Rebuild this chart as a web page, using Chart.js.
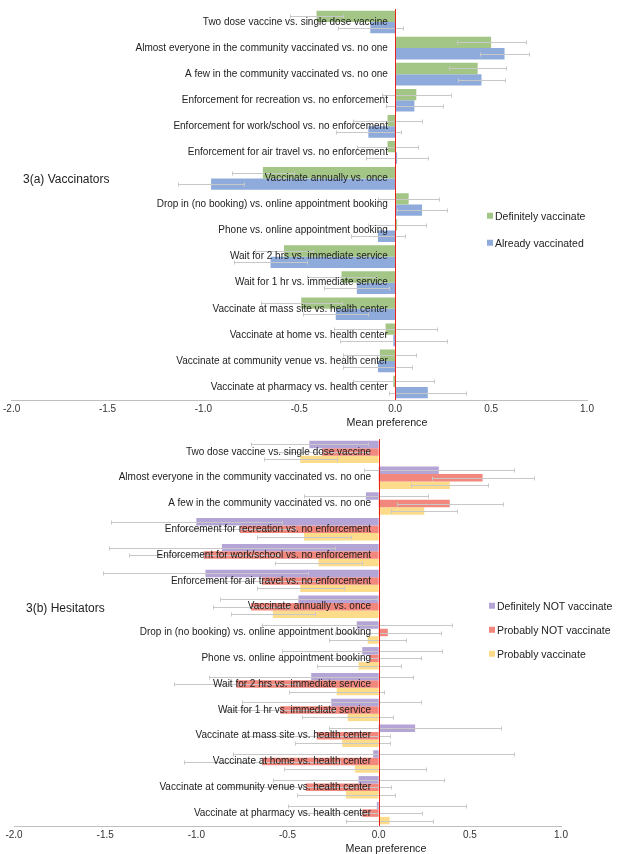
<!DOCTYPE html>
<html>
<head>
<meta charset="utf-8">
<script src="https://cdn.jsdelivr.net/npm/chart.js@4"></script>
<style>
  body { margin: 0; background: #fff; font-family: "Liberation Sans", Arial, sans-serif; color: #222; }
  #wrap { position: relative; width: 638px; height: 854px; }
  .box { position: absolute; left: 0; width: 638px; }
  .txt { position: absolute; white-space: nowrap; transform: translateY(-50%); line-height: 1; }
  .title { font-size: 12px; }
  .axis-title { font-size: 10.7px; transform: translate(-50%, -50%); }
  .leg { font-size: 10.5px; }
  .leg i { display: inline-block; width: 6px; height: 6px; margin-right: 2px; vertical-align: 1px; }
</style>
</head>
<body>
<div id="wrap">
  <div class="box" style="top:0;height:430px"><canvas id="vaccinators"></canvas></div>
  <div class="box" style="top:430px;height:424px"><canvas id="hesitators"></canvas></div>

  <div class="txt title" style="left:23px;top:179px">3(a) Vaccinators</div>
  <div class="txt leg" style="left:487px;top:216px"><i style="background:#a3c585"></i>Definitely vaccinate</div>
  <div class="txt leg" style="left:487px;top:243px"><i style="background:#8fabdc"></i>Already vaccinated</div>
  <div class="txt axis-title" style="left:387px;top:422px">Mean preference</div>

  <div class="txt title" style="left:26px;top:608px">3(b) Hesitators</div>
  <div class="txt leg" style="left:489px;top:606px"><i style="background:#b4a5d6"></i>Definitely NOT vaccinate</div>
  <div class="txt leg" style="left:489px;top:630px"><i style="background:#f2877d"></i>Probably NOT vaccinate</div>
  <div class="txt leg" style="left:489px;top:654px"><i style="background:#fcdb8b"></i>Probably vaccinate</div>
  <div class="txt axis-title" style="left:386px;top:848px">Mean preference</div>
</div>

<script>
const attributes = [
    'Two dose vaccine vs. single dose vaccine',
    'Almost everyone in the community vaccinated vs. no one',
    'A few in the community vaccinated vs. no one',
    'Enforcement for recreation vs. no enforcement',
    'Enforcement for work/school vs. no enforcement',
    'Enforcement for air travel vs. no enforcement',
    'Vaccinate annually vs. once',
    'Drop in (no booking) vs. online appointment booking',
    'Phone vs. online appointment booking',
    'Wait for 2 hrs vs. immediate service',
    'Wait for 1 hr vs. immediate service',
    'Vaccinate at mass site vs. health center',
    'Vaccinate at home vs. health center',
    'Vaccinate at community venue vs. health center',
    'Vaccinate at pharmacy vs. health center',
];
const xTicks = [-2.0, -1.5, -1.0, -0.5, 0.0, 0.5, 1.0];

// 3(a) vaccinators: mean preference and error half-width
const definitelyVaccinate = [-0.41, 0.50, 0.43, 0.11, -0.04, -0.04, -0.69, 0.07, 0.01, -0.58, -0.28, -0.49, -0.05, -0.08, -0.01];
const definitelyVaccinateErr = [0.14, 0.18, 0.15, 0.18, 0.18, 0.16, 0.16, 0.16, 0.15, 0.15, 0.18, 0.21, 0.27, 0.19, 0.21];
const alreadyVaccinated = [-0.13, 0.57, 0.45, 0.10, -0.14, 0.01, -0.96, 0.14, -0.09, -0.65, -0.20, -0.31, -0.01, -0.09, 0.17];
const alreadyVaccinatedErr = [0.17, 0.13, 0.12, 0.15, 0.17, 0.16, 0.17, 0.13, 0.14, 0.19, 0.17, 0.17, 0.28, 0.18, 0.20];

// 3(b) hesitators
const definitelyNot = [-0.38, 0.33, -0.07, -1.00, -0.86, -0.95, -0.44, -0.12, -0.09, -0.37, -0.26, 0.20, -0.03, -0.11, -0.01];
const definitelyNotErr = [0.32, 0.41, 0.34, 0.47, 0.62, 0.56, 0.43, 0.52, 0.44, 0.56, 0.49, 0.47, 0.77, 0.47, 0.49];
const probablyNot = [-0.31, 0.57, 0.39, -0.76, -0.96, -0.64, -0.70, 0.05, -0.05, -0.78, -0.54, -0.34, -0.64, -0.40, -0.09];
const probablyNotErr = [0.25, 0.28, 0.29, 0.30, 0.41, 0.30, 0.21, 0.29, 0.28, 0.34, 0.30, 0.40, 0.43, 0.47, 0.33];
const probablyVaccinate = [-0.43, 0.39, 0.25, -0.41, -0.33, -0.43, -0.58, -0.06, -0.11, -0.23, -0.17, -0.20, -0.13, -0.18, 0.06];
const probablyVaccinateErr = [0.20, 0.21, 0.18, 0.26, 0.24, 0.24, 0.23, 0.21, 0.23, 0.26, 0.25, 0.26, 0.39, 0.27, 0.24];

const FONT = '"Liberation Sans", Arial, sans-serif';

// light grey error bars plus the red zero line, drawn over the bars
const errorBars = {
    id: 'errorBars',
    afterDatasetsDraw(chart) {
        const {ctx, chartArea} = chart;
        const x = chart.scales.x;
        ctx.save();
        ctx.strokeStyle = '#c8c8c8';
        ctx.lineWidth = 1;
        chart.data.datasets.forEach((ds, i) => {
            chart.getDatasetMeta(i).data.forEach((bar, j) => {
                const v = ds.data[j];
                const e = ds.errors[j];
                const x0 = Math.round(x.getPixelForValue(v - e)) + 0.5;
                const x1 = Math.round(x.getPixelForValue(v + e)) + 0.5;
                const y = Math.round(bar.y) + 0.5;
                ctx.beginPath();
                ctx.moveTo(x0, y);
                ctx.lineTo(x1, y);
                ctx.moveTo(x0, y - 2);
                ctx.lineTo(x0, y + 2);
                ctx.moveTo(x1, y - 2);
                ctx.lineTo(x1, y + 2);
                ctx.stroke();
            });
        });
        const zx = Math.round(x.getPixelForValue(0)) + 0.5;
        ctx.strokeStyle = '#e8231b';
        ctx.beginPath();
        ctx.moveTo(zx, chartArea.top);
        ctx.lineTo(zx, chartArea.bottom);
        ctx.stroke();
        ctx.restore();
    }
};

function makeChart(id, datasets, padding, labelAt) {
    return new Chart(document.getElementById(id), {
        type: 'bar',
        data: {
            labels: attributes,
            datasets: datasets.map(d => ({
                label: d.label,
                data: d.data,
                errors: d.errors,
                backgroundColor: d.color,
                borderWidth: 0,
                categoryPercentage: 0.87,
                barPercentage: 1.0,
            })),
        },
        options: {
            indexAxis: 'y',
            animation: false,
            responsive: true,
            maintainAspectRatio: false,
            layout: {padding: padding},
            plugins: {
                legend: {display: false},
                tooltip: {enabled: false},
            },
            scales: {
                x: {
                    min: -2,
                    max: 1,
                    afterBuildTicks: axis => { axis.ticks = xTicks.map(v => ({value: v})); },
                    grid: {display: false, drawTicks: false},
                    border: {color: '#bfbfbf', width: 1},
                    ticks: {
                        color: '#333',
                        padding: 3,
                        font: {family: FONT, size: 10},
                        callback: v => Number(v).toFixed(1),
                    },
                },
                y: {
                    // labels sit just left of the zero line
                    position: {x: labelAt},
                    grid: {display: false, drawTicks: false},
                    border: {display: false},
                    ticks: {
                        z: 1,
                        color: '#222',
                        autoSkip: false,
                        font: {family: FONT, size: 10},
                    },
                },
            },
        },
        plugins: [errorBars],
    });
}

makeChart('vaccinators', [
    {label: 'Definitely vaccinate', data: definitelyVaccinate, errors: definitelyVaccinateErr, color: '#a3c585'},
    {label: 'Already vaccinated', data: alreadyVaccinated, errors: alreadyVaccinatedErr, color: '#8fabdc'},
], {top: 8, bottom: 12, left: 11, right: 51}, -0.038);

makeChart('hesitators', [
    {label: 'Definitely NOT vaccinate', data: definitelyNot, errors: definitelyNotErr, color: '#b4a5d6'},
    {label: 'Probably NOT vaccinate', data: probablyNot, errors: probablyNotErr, color: '#f2877d'},
    {label: 'Probably vaccinate', data: probablyVaccinate, errors: probablyVaccinateErr, color: '#fcdb8b'},
], {top: 5, bottom: 10, left: 14, right: 77}, -0.042);
</script>
</body>
</html>
